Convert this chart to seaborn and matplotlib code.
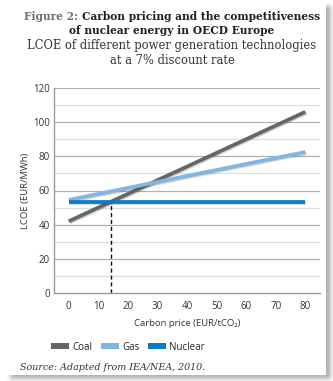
import matplotlib
matplotlib.use("Agg")
import matplotlib.pyplot as plt
import matplotlib.patheffects as pe
from matplotlib.patches import Patch
import numpy as np
import pandas as pd
import seaborn as sns

# Levelised cost of electricity vs carbon price, OECD Europe, 7% discount rate
carbon_price = [0, 80]
coal = [42, 106]
gas = [54.5, 82.5]
nuclear = [53.5, 53.5]
technologies = ["Coal", "Gas", "Nuclear"]
colors = ["#666666", "#82b5e3", "#0a7cc2"]
x_ticks = [0, 10, 20, 30, 40, 50, 60, 70, 80]
y_ticks = [0, 20, 40, 60, 80, 100, 120]

df = pd.DataFrame({
    "price": carbon_price * 3,
    "lcoe": coal + gas + nuclear,
    "tech": [t for t in technologies for _ in carbon_price],
})

sns.set_theme(style="white")
sans = ["Open Sans", "DejaVu Sans"]
serif = ["DejaVu Serif"]
plt.rcParams["font.family"] = sans

W, H = 333, 381
fig = plt.figure(figsize=(W / 100, H / 100), dpi=100)
fig.patch.set_facecolor("white")

# white panel with a soft drop shadow to the lower right
mask = np.zeros((H, W))
mask[6:379, 10:331] = 1.0
k = 5
kernel = np.ones(k) / k
for _ in range(2):
    mask = np.apply_along_axis(lambda r: np.convolve(r, kernel, mode="same"), 1, mask)
    mask = np.apply_along_axis(lambda c: np.convolve(c, kernel, mode="same"), 0, mask)
img = 1.0 - 0.30 * mask
img[:375, :326] = 1.0
rgb = np.dstack([img, img, img])
fig.figimage(rgb, xo=0, yo=0, origin="upper", zorder=-10)

ax = fig.add_axes([54 / W, 1 - 293 / H, (320 - 54) / W, (293 - 88) / H])
ax.set_facecolor("none")

sns.lineplot(data=df, x="price", y="lcoe", hue="tech", palette=colors,
             hue_order=technologies, linewidth=2.7, ax=ax, legend=False,
             zorder=3)
for line in ax.get_lines():
    line.set_solid_capstyle("butt")
    line.set_path_effects([pe.SimpleLineShadow(offset=(0.8, -0.8), alpha=0.2),
                           pe.Normal()])

# break-even carbon price where coal meets nuclear
slope = (coal[1] - coal[0]) / (carbon_price[1] - carbon_price[0])
breakeven = (nuclear[0] - coal[0]) / slope
ax.plot([breakeven, breakeven], [0, nuclear[0]], color="#111111",
        linestyle=(0, (3, 2)), linewidth=1.0, zorder=2)

ax.set_xlim(-5, 85)
ax.set_ylim(0, 120)
ax.set_yticks(y_ticks)
ax.set_xticks(x_ticks)
ax.set_xticks(np.arange(-5, 86, 10), minor=True)
for y in range(10, 121, 10):
    ax.axhline(y, color="#b0b0b0" if y % 20 == 0 else "#dedede",
               linewidth=0.9, zorder=0)

for s in ["top", "right"]:
    ax.spines[s].set_visible(False)
for s in ["left", "bottom"]:
    ax.spines[s].set_color("#9a9a9a")
    ax.spines[s].set_linewidth(1.0)

ax.tick_params(axis="x", which="major", length=0, labelsize=7, pad=6,
               colors="#333333")
ax.tick_params(axis="x", which="minor", direction="in", length=3, width=0.8,
               color="#9a9a9a")
ax.tick_params(axis="y", length=0, labelsize=7, pad=3, colors="#333333")

ax.set_xlabel("Carbon price (EUR/tCO₂)", fontsize=6.8, color="#333333", labelpad=5)
ax.set_ylabel("LCOE (EUR/MWh)", fontsize=6.8, color="#333333")
ax.yaxis.set_label_coords((30 - 54) / (320 - 54), 0.5)

handles = [Patch(facecolor=c, edgecolor="none") for c in colors]
fig.legend(handles, technologies, loc="center", bbox_to_anchor=(128 / W, 1 - 347 / H),
           ncol=3, frameon=False, fontsize=7, handlelength=1.85, handleheight=0.5,
           handletextpad=0.3, columnspacing=0.9)

# title block
cx = 172 / W
fig.canvas.draw()
renderer = fig.canvas.get_renderer()
t_fig = fig.text(0, 1 - 17 / H, "Figure 2: ", ha="left", va="center",
                 fontsize=7.7, family=serif, weight="bold", color="#707070")
t_main = fig.text(0, 1 - 17 / H, "Carbon pricing and the competitiveness",
                  ha="left", va="center", fontsize=7.7, family=serif,
                  weight="bold", color="#222222")
w_fig = t_fig.get_window_extent(renderer).width / W
w_main = t_main.get_window_extent(renderer).width / W
x0 = cx - (w_fig + w_main) / 2
t_fig.set_x(x0)
t_main.set_x(x0 + w_fig)

fig.text(cx, 1 - 31 / H, "of nuclear energy in OECD Europe", ha="center",
         va="center", fontsize=7.7, family=serif, weight="bold", color="#222222")
fig.text(cx, 1 - 46 / H, "LCOE of different power generation technologies",
         ha="center", va="center", fontsize=8.3, family=serif, color="#333333")
fig.text(cx, 1 - 61 / H, "at a 7% discount rate", ha="center", va="center",
         fontsize=8.3, family=serif, color="#333333")

fig.text(20 / W, 1 - 368 / H, "Source: Adapted from IEA/NEA, 2010.",
         ha="left", va="center", fontsize=6.8, family=serif, style="italic",
         color="#333333")

fig.savefig("out.png", dpi=100)
